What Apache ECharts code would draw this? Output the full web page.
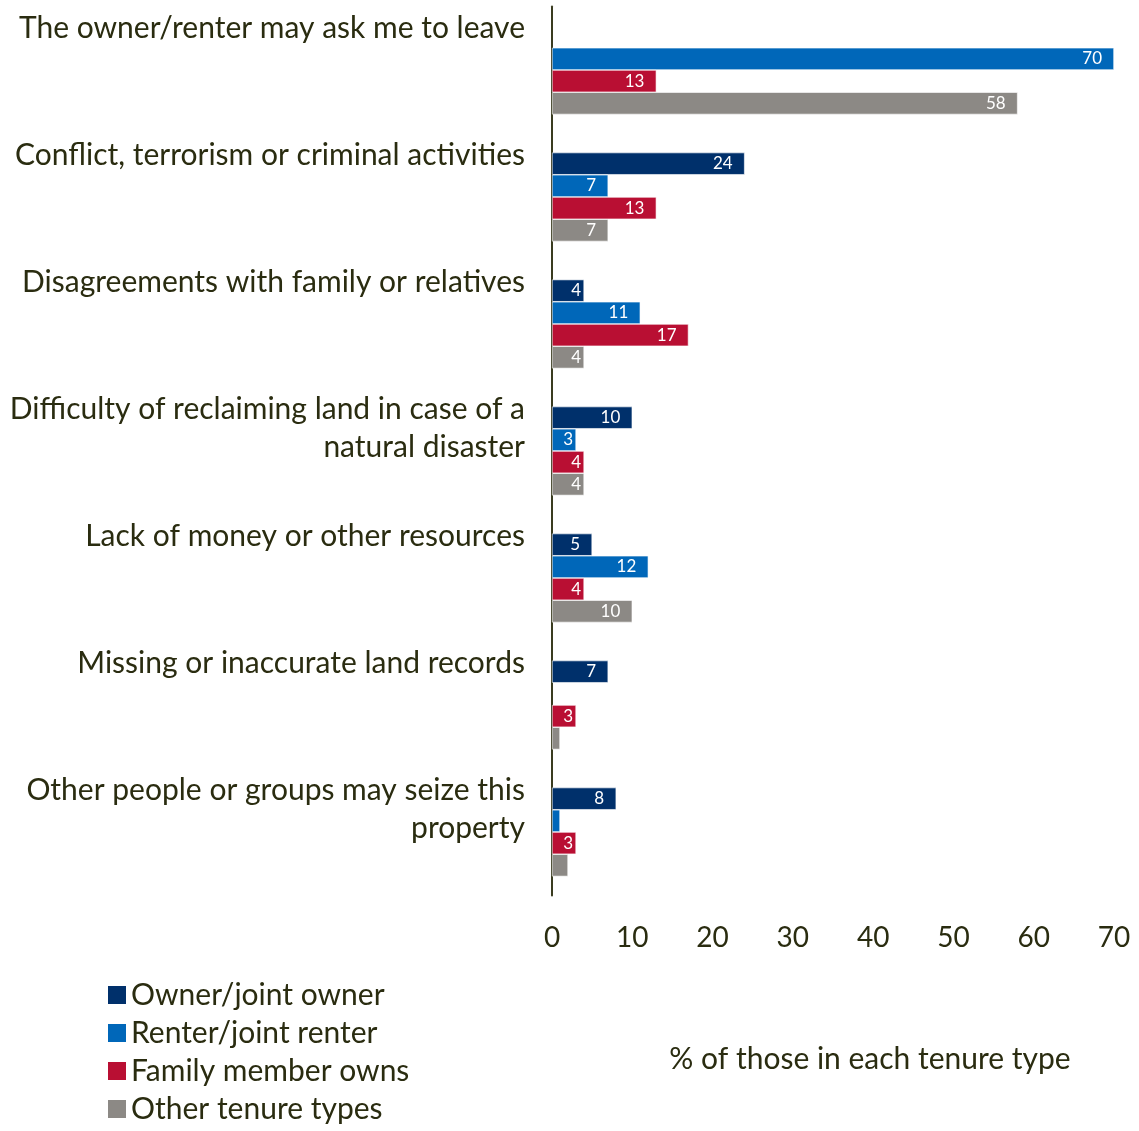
<!DOCTYPE html>
<html>
<head>
<meta charset="utf-8">
<style>
  html, body { margin: 0; padding: 0; background: #ffffff; }
  #chart { width: 1139px; height: 1131px; }
</style>
<script src="https://cdn.jsdelivr.net/npm/echarts@6/dist/echarts.min.js"></script>
</head>
<body>
<div id="chart"></div>
<script>
// Reasons for fearing loss of the property, by tenure type
const categories = [
  'The owner/renter may ask me to leave',
  'Conflict, terrorism or criminal activities',
  'Disagreements with family or relatives',
  'Difficulty of reclaiming land in case of a\nnatural disaster',
  'Lack of money or other resources',
  'Missing or inaccurate land records',
  'Other people or groups may seize this\nproperty'
];
const seriesNames = ['Owner/joint owner', 'Renter/joint renter', 'Family member owns', 'Other tenure types'];
const ownerValues  = [null, 24, 4, 10, 5, 7, 8];
const renterValues = [70, 7, 11, 3, 12, null, 1];
const familyValues = [13, 13, 17, 4, 4, 3, 3];
const otherValues  = [58, 7, 4, 4, 10, 1, 2];
const xTicks = [0, 10, 20, 30, 40, 50, 60, 70];
const axisTitle = '% of those in each tenure type';

const colors = ['#00306b', '#0067b9', '#b90f33', '#8c8985'];
const textColor = '#2a2c10';
const FONT = 'Lato';

const valueSets = [ownerValues, renterValues, familyValues, otherValues];

const chart = echarts.init(document.getElementById('chart'), null, { renderer: 'canvas' });

const series = seriesNames.map((name, i) => ({
  name: name,
  type: 'bar',
  data: valueSets[i].map(v => ({
    value: v,
    // very short bars keep their value label close to the bar end
    label: { distance: (v != null && v < 5) ? 3 : 12 }
  })),
  barGap: '0%',
  barCategoryGap: '30%',
  itemStyle: { color: colors[i], borderColor: '#ffffff', borderWidth: 0.6 },
  label: {
    show: true,
    position: 'insideRight',
    color: '#ffffff',
    fontFamily: FONT,
    fontSize: 17,
    formatter: p => (p.value != null && p.value >= 3) ? String(p.value) : ''
  }
}));

chart.setOption({
  animation: false,
  backgroundColor: '#ffffff',
  color: colors,
  grid: { left: 552, right: 25, top: 6.5, height: 889, containLabel: false },
  xAxis: {
    type: 'value',
    min: xTicks[0],
    max: xTicks[xTicks.length - 1],
    interval: 10,
    axisLine: { show: false },
    axisTick: { show: false },
    splitLine: { show: false },
    axisLabel: { color: textColor, fontFamily: FONT, fontSize: 28, margin: 28 },
    name: axisTitle,
    nameLocation: 'middle',
    nameGap: 149,
    nameTextStyle: { color: textColor, fontFamily: FONT, fontSize: 30, padding: [0, 0, 0, 74] }
  },
  yAxis: {
    type: 'category',
    data: categories,
    inverse: true,
    axisLine: { show: true, lineStyle: { color: '#3a3c20', width: 2 } },
    axisTick: { show: false },
    axisLabel: {
      color: textColor,
      fontFamily: FONT,
      fontSize: 30,
      lineHeight: 38,
      margin: 27,
      align: 'right',
      verticalAlign: 'top',
      padding: [-61, 0, 0, 0]
    }
  },
  legend: {
    orient: 'vertical',
    left: 108,
    top: 980,
    height: 150,
    padding: 0,
    icon: 'rect',
    itemWidth: 18,
    itemHeight: 18,
    itemGap: 8,
    itemStyle: { borderWidth: 0 },
    textStyle: { color: textColor, fontFamily: FONT, fontSize: 30, lineHeight: 30 },
    data: seriesNames
  },
  series: series
});
</script>
</body>
</html>
